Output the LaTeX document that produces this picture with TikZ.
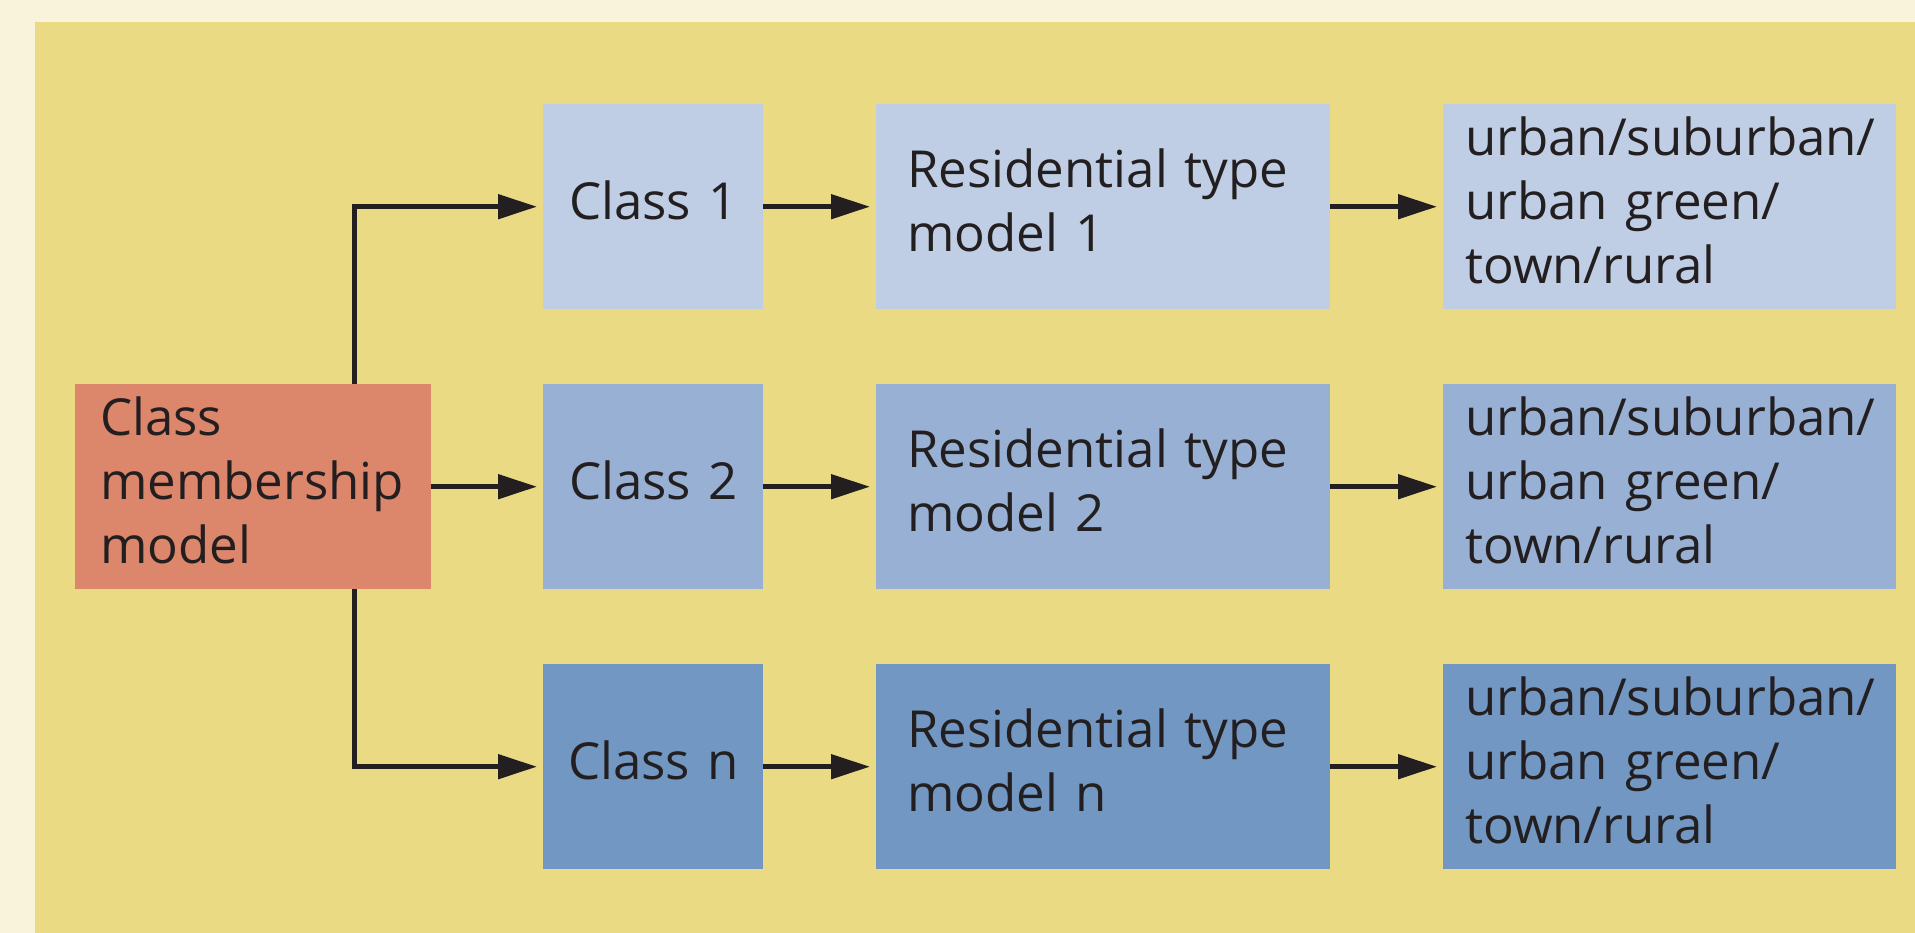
\documentclass[tikz,border=0pt]{standalone}
\usepackage{fontspec}
\setmainfont{Open Sans}
\usetikzlibrary{arrows.meta}
\definecolor{cream}{HTML}{FAF3DC}
\definecolor{panel}{HTML}{EBDA84}
\definecolor{salmon}{HTML}{DC866C}
\definecolor{blueA}{HTML}{BFCEE4}
\definecolor{blueB}{HTML}{97B0D4}
\definecolor{blueC}{HTML}{7197C2}
\definecolor{ink}{HTML}{231F20}
\newcommand{\mlines}[1]{\begin{tabular}{@{}l@{}}#1\end{tabular}}
\tikzset{
  box/.style={anchor=north west, inner ysep=0pt, minimum height=205pt, text=ink,
    font=\fontsize{51}{64}\selectfont},
  leftbox/.style={box, align=left, inner xsep=25pt},
  midbox/.style={box, align=center, inner xsep=0pt, text width=220pt},
  resbox/.style={leftbox, inner xsep=31pt, text width=392pt},
  outbox/.style={leftbox, inner xsep=22pt, text width=409pt},
  arr/.style={draw=ink, line width=5pt, line join=miter, shorten >=6pt,
    -{Triangle[length=39pt,width=24pt]}}
}
\begin{document}
\begin{tikzpicture}[x=1pt,y=-1pt]
\useasboundingbox (0,0) rectangle (1915,933);
\fill[cream] (0,0) rectangle (1915,933);
\fill[panel] (35,22) rectangle (1915,933);

\node[leftbox, fill=salmon, text width=306pt] (cm) at (75,384) {\mlines{Class\\membership\\model}};

\node[midbox, fill=blueA] (c1) at (543,104) {\mlines{Class 1}};
\node[midbox, fill=blueB] (c2) at (543,384) {\mlines{Class 2}};
\node[midbox, fill=blueC] (c3) at (543,664) {\mlines{Class n}};

\node[resbox, fill=blueA] (r1) at (876,104) {\mlines{Residential type\\model 1}};
\node[resbox, fill=blueB] (r2) at (876,384) {\mlines{Residential type\\model 2}};
\node[resbox, fill=blueC] (r3) at (876,664) {\mlines{Residential type\\model n}};

\node[outbox, fill=blueA] (u1) at (1443,104) {\mlines{urban/suburban/\\urban green/\\town/rural}};
\node[outbox, fill=blueB] (u2) at (1443,384) {\mlines{urban/suburban/\\urban green/\\town/rural}};
\node[outbox, fill=blueC] (u3) at (1443,664) {\mlines{urban/suburban/\\urban green/\\town/rural}};

\coordinate (jt) at ([xshift=279pt]cm.north west);
\coordinate (jb) at ([xshift=279pt]cm.south west);
\draw[arr] (jt) |- (c1.west);
\draw[arr] (cm.east) -- (c2.west);
\draw[arr] (jb) |- (c3.west);

\draw[arr] (c1.east) -- (r1.west);
\draw[arr] (c2.east) -- (r2.west);
\draw[arr] (c3.east) -- (r3.west);
\draw[arr] (r1.east) -- (u1.west);
\draw[arr] (r2.east) -- (u2.west);
\draw[arr] (r3.east) -- (u3.west);
\end{tikzpicture}
\end{document}
